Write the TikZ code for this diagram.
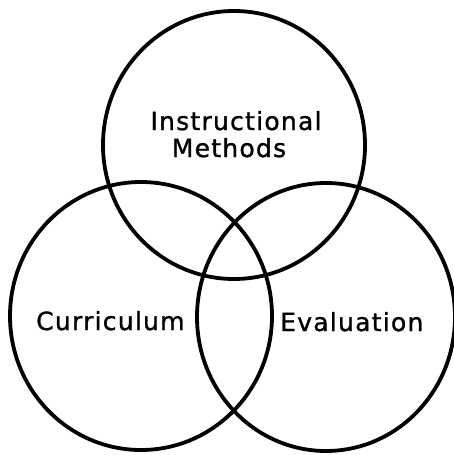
\documentclass[tikz,border=0pt]{standalone}
\usepackage{fontspec}
\newfontfamily\lettering[LetterSpace=5,FakeBold=1.2]{DejaVu Sans}
\begin{document}
\begin{tikzpicture}[x=1pt,y=-1pt,
  ring/.style={line width=3.8pt, black},
  label/.style={font=\lettering\fontsize{25}{27}\selectfont, inner sep=0pt, text=black}]
\useasboundingbox (0,0) rectangle (454,455);
\fill[white] (0,0) rectangle (454,455);
\draw[ring] (234,145) ellipse [x radius=131pt, y radius=134pt];
\draw[ring] (141,316) ellipse [x radius=131pt, y radius=134pt];
\draw[ring] (326,317) ellipse [x radius=129pt, y radius=134pt];
\node[label, anchor=base] (instr) at (236,130) {Instructional};
\node[label, anchor=base] (meth) at (229,157) {Methods};
\node[label, anchor=base west] (curr) at (36,330) {Curriculum};
\node[label, anchor=base west] (eval) at (280,331) {Evaluation};
\end{tikzpicture}
\end{document}
